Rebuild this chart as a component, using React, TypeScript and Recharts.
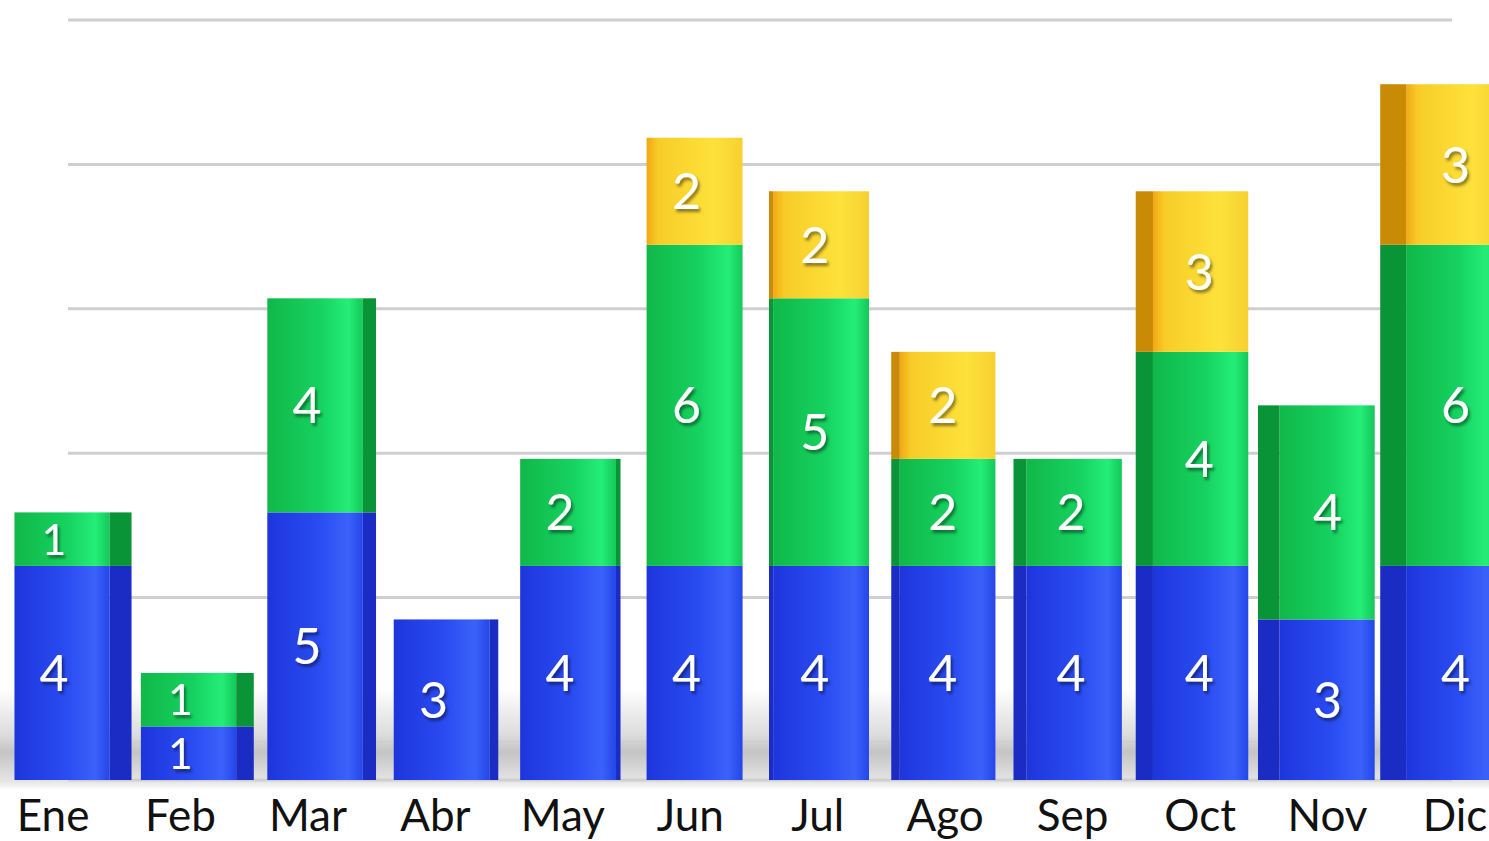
import * as React from "react";
import {
  BarChart,
  Bar,
  XAxis,
  YAxis,
  CartesianGrid,
  LabelList,
} from "recharts";

const months = ["Ene", "Feb", "Mar", "Abr", "May", "Jun", "Jul", "Ago", "Sep", "Oct", "Nov", "Dic"];
const blueValues = [4, 1, 5, 3, 4, 4, 4, 4, 4, 4, 3, 4];
const greenValues = [1, 1, 4, 0, 2, 6, 5, 2, 2, 4, 4, 6];
const yellowValues = [0, 0, 0, 0, 0, 2, 2, 2, 0, 3, 0, 3];
// gridlines sit on the back wall, so they use their own (smaller) scale
const backWallTicks = [0, 3, 6, 9, 12, 15];

const data = months.map((month, i) => ({
  month,
  blue: blueValues[i],
  green: greenValues[i],
  yellow: yellowValues[i],
}));

const VIEW_X = 700; // horizontal vanishing point of the fake perspective
const FONT = "Lato, 'Open Sans', sans-serif";

const palettes = {
  blue: { id: "gBlue", side: "#1a2cc4" },
  green: { id: "gGreen", side: "#0a9438" },
  yellow: { id: "gYellow", side: "#c98a06" },
};

// front face + side face for a bar slot
function boxGeom(x: number, width: number) {
  const cx = x + width / 2;
  const dist = Math.abs(cx - VIEW_X);
  const w = width * (1 + dist * 0.00035);
  const side = Math.min(dist * 0.035, 30);
  const left = cx - w / 2;
  if (cx < VIEW_X) {
    return { cx, frontX: left, frontW: w - side, sideX: left + w - side, sideW: side };
  }
  return { cx, frontX: left + side, frontW: w - side, sideX: left, sideW: side };
}

function makeBox(key: keyof typeof palettes) {
  const pal = palettes[key];
  return (props: any) => {
    const { x, y, width, height } = props;
    if (!height || height <= 0.5) return <g />;
    const g = boxGeom(x, width);
    return (
      <g>
        <rect x={g.frontX} y={y} width={g.frontW} height={height} fill={`url(#${pal.id})`} />
        {g.sideW > 0.5 && <rect x={g.sideX} y={y} width={g.sideW} height={height} fill={pal.side} />}
      </g>
    );
  };
}

function segmentLabel(props: any) {
  const { x, y, width, height, value } = props;
  if (!value) return null;
  const g = boxGeom(x, width);
  const tx = g.frontX + g.frontW / 2 - 8 + Math.max(0, g.cx - VIEW_X) * 0.0135;
  const fs = Math.min(50, height * 0.8);
  const ty = y + height / 2 + fs * 0.36;
  return (
    <text x={tx} y={ty} textAnchor="middle" fontSize={fs} fontFamily={FONT} fill="#ffffff" filter="url(#numShadow)">
      {value}
    </text>
  );
}

function MonthTick(props: any) {
  const { x, y, payload } = props;
  const shift = -4.4 + (x - VIEW_X) * 0.025;
  return (
    <text x={x + shift} y={y + 43} textAnchor="middle" fontSize={44} fontFamily={FONT} fill="#111">
      {payload.value}
    </text>
  );
}

function GridLine(props: any) {
  const { x1, x2, y1, y2 } = props;
  return <line x1={x1 + 57} x2={x2 - 51} y1={y1} y2={y2} stroke="#cfcfcf" strokeWidth={3} />;
}

export default function App() {
  return (
    <div
      style={{
        position: "fixed",
        left: 0,
        top: 0,
        width: 1489,
        height: 841,
        overflow: "hidden",
        background:
          "linear-gradient(to bottom, #fff 0px, #fff 688px, #dcdcdc 735px, #c4c4c4 752px, #e6e6e6 782px, #fff 790px, #fff 841px)",
      }}
    >
      <BarChart
        width={1503}
        height={841}
        data={data}
        margin={{ top: 20, right: 0, left: 11, bottom: 0 }}
        barCategoryGap={0}
      >
        <defs>
          <linearGradient id="gBlue" x1="0" y1="0" x2="1" y2="0">
            <stop offset="0%" stopColor="#1d36dc" />
            <stop offset="55%" stopColor="#2a4cf2" />
            <stop offset="85%" stopColor="#3a62fa" />
            <stop offset="100%" stopColor="#2446ea" />
          </linearGradient>
          <linearGradient id="gGreen" x1="0" y1="0" x2="1" y2="0">
            <stop offset="0%" stopColor="#10b848" />
            <stop offset="55%" stopColor="#16d260" />
            <stop offset="85%" stopColor="#24ee78" />
            <stop offset="100%" stopColor="#14c858" />
          </linearGradient>
          <linearGradient id="gYellow" x1="0" y1="0" x2="1" y2="0">
            <stop offset="0%" stopColor="#f0a814" />
            <stop offset="12%" stopColor="#f8cc28" />
            <stop offset="70%" stopColor="#fde23a" />
            <stop offset="100%" stopColor="#f6d030" />
          </linearGradient>
          <filter id="numShadow" x="-50%" y="-50%" width="200%" height="200%">
            <feDropShadow dx="2" dy="3" stdDeviation="1.5" floodColor="#000" floodOpacity="0.45" />
          </filter>
        </defs>
        <CartesianGrid yAxisId="back" vertical={false} horizontal={GridLine} />
        <XAxis dataKey="month" axisLine={false} tickLine={false} height={61} tick={<MonthTick />} interval={0} />
        <YAxis yAxisId="front" type="number" domain={[0, 14.2]} allowDataOverflow hide />
        <YAxis yAxisId="back" type="number" domain={[-0.79, 15]} ticks={backWallTicks} allowDataOverflow hide />
        <Bar yAxisId="front" dataKey="blue" stackId="s" barSize={96} shape={makeBox("blue")} isAnimationActive={false}>
          <LabelList dataKey="blue" content={segmentLabel} />
        </Bar>
        <Bar yAxisId="front" dataKey="green" stackId="s" barSize={96} shape={makeBox("green")} isAnimationActive={false}>
          <LabelList dataKey="green" content={segmentLabel} />
        </Bar>
        <Bar yAxisId="front" dataKey="yellow" stackId="s" barSize={96} shape={makeBox("yellow")} isAnimationActive={false}>
          <LabelList dataKey="yellow" content={segmentLabel} />
        </Bar>
      </BarChart>
    </div>
  );
}
